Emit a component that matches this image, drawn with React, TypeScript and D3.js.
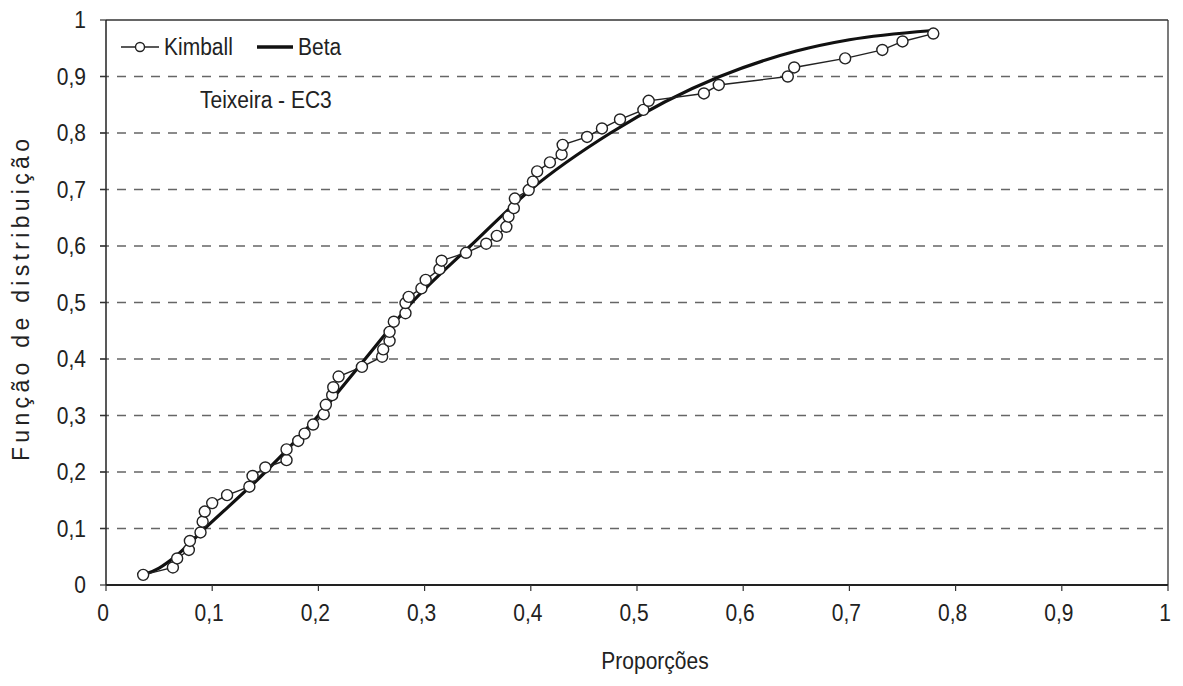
import React from 'react';
import * as d3 from 'd3';

const kimballX = [0.035,0.063,0.067,0.078,0.079,0.089,0.091,0.093,0.100,0.114,0.135,0.138,0.150,0.170,0.170,0.181,0.187,0.195,0.205,0.207,0.213,0.214,0.219,0.241,0.260,0.261,0.267,0.267,0.271,0.282,0.282,0.285,0.297,0.301,0.314,0.316,0.339,0.358,0.368,0.377,0.379,0.384,0.385,0.398,0.402,0.406,0.418,0.429,0.430,0.453,0.467,0.484,0.506,0.511,0.563,0.577,0.642,0.648,0.696,0.731,0.750,0.779];
const kimballY = [0.018,0.031,0.047,0.062,0.078,0.093,0.112,0.130,0.145,0.159,0.174,0.193,0.208,0.221,0.240,0.255,0.268,0.284,0.302,0.319,0.336,0.350,0.369,0.386,0.404,0.417,0.432,0.448,0.466,0.481,0.499,0.510,0.525,0.540,0.559,0.574,0.588,0.604,0.618,0.634,0.652,0.667,0.684,0.699,0.714,0.732,0.748,0.762,0.779,0.793,0.808,0.824,0.841,0.857,0.870,0.885,0.900,0.916,0.932,0.947,0.962,0.976];

const betaX = [0.035,0.05,0.065,0.093,0.15,0.2,0.244,0.288,0.343,0.40,0.475,0.578,0.65,0.70,0.776];
const betaY = [0.018,0.03,0.05,0.1,0.2,0.3,0.4,0.5,0.6,0.7,0.8,0.9,0.945,0.965,0.981];

const xTicks = [0,0.1,0.2,0.3,0.4,0.5,0.6,0.7,0.8,0.9,1];
const yTicks = [0,0.1,0.2,0.3,0.4,0.5,0.6,0.7,0.8,0.9,1];
const gridTicks = [0.1,0.2,0.3,0.4,0.5,0.6,0.7,0.8,0.9];

const fmt = (v: number) => (v === 0 ? '0' : v === 1 ? '1' : d3.format('.1f')(v).replace('.', ','));

const FONT = 'Liberation Sans, Arial, sans-serif';
const FS = 21;
const SY = 1.15;

function T({ x, y, anchor = 'start', children }: { x: number; y: number; anchor?: string; children: React.ReactNode }) {
  return (
    <text transform={`translate(${x},${y}) scale(1,${SY})`} textAnchor={anchor as any} fontSize={FS} fill="#222">
      {children}
    </text>
  );
}

export default function App() {
  const W = 1183, H = 686;
  const x = d3.scaleLinear().domain([0, 1]).range([106, 1168]);
  const y = d3.scaleLinear().domain([0, 1]).range([585, 20]);

  const kim = kimballX.map((v, i) => [v, kimballY[i]] as [number, number]);
  const beta = betaX.map((v, i) => [v, betaY[i]] as [number, number]);

  const kLine = d3.line<[number, number]>().x(d => x(d[0])).y(d => y(d[1]));
  const bLine = d3.line<[number, number]>().x(d => x(d[0])).y(d => y(d[1])).curve(d3.curveMonotoneX);

  return (
    <svg width={W} height={H} style={{ position: 'absolute', left: 0, top: 0, background: '#fff' }} fontFamily={FONT}>
      <rect x={0} y={0} width={W} height={H} fill="#fff" />
      {gridTicks.map(t => (
        <line key={'g' + t} x1={x(0) - 6} x2={x(1)} y1={y(t)} y2={y(t)} stroke="#666" strokeWidth={1.3} strokeDasharray="9,8" />
      ))}
      {/* frame */}
      <line x1={x(0)} x2={x(1)} y1={y(1)} y2={y(1)} stroke="#333" strokeWidth={1.3} />
      <line x1={x(1)} x2={x(1)} y1={y(1)} y2={y(0)} stroke="#333" strokeWidth={1.3} />
      <line x1={x(0)} x2={x(0)} y1={y(1)} y2={y(0)} stroke="#222" strokeWidth={1.5} />
      <line x1={x(0)} x2={x(1)} y1={y(0)} y2={y(0)} stroke="#222" strokeWidth={1.8} />
      {yTicks.map(t => (
        <g key={'yt' + t}>
          <line x1={x(0) - 6} x2={x(0)} y1={y(t)} y2={y(t)} stroke="#333" strokeWidth={1.2} />
          <T x={86} y={y(t) + 8} anchor="end">{fmt(t)}</T>
        </g>
      ))}
      {xTicks.map(t => (
        <g key={'xt' + t}>
          <line x1={x(t)} x2={x(t)} y1={y(0)} y2={y(0) + 6} stroke="#333" strokeWidth={1.2} />
          <T x={x(t) - 3} y={621} anchor="middle">{fmt(t)}</T>
        </g>
      ))}
      <T x={655} y={669} anchor="middle">Proporções</T>
      <text transform={`translate(29,${300}) rotate(-90)`} textAnchor="middle" fontSize={23} fill="#222" textLength={322} lengthAdjust="spacing">Função de distribuição</text>

      {/* series */}
      <path d={bLine(beta) || ''} fill="none" stroke="#111" strokeWidth={3.2} />
      <path d={kLine(kim) || ''} fill="none" stroke="#222" strokeWidth={1.4} />
      {kim.map((d, i) => (
        <circle key={'c' + i} cx={x(d[0])} cy={y(d[1])} r={5.5} fill="#fff" stroke="#222" strokeWidth={1.4} />
      ))}

      {/* legend */}
      <line x1={121} x2={159} y1={47} y2={47} stroke="#222" strokeWidth={1.6} />
      <circle cx={140} cy={47} r={4.5} fill="#fff" stroke="#222" strokeWidth={1.4} />
      <T x={164} y={55}>Kimball</T>
      <line x1={257} x2={293} y1={47} y2={47} stroke="#111" strokeWidth={3.5} />
      <T x={298} y={55}>Beta</T>
      <T x={200} y={108}>Teixeira - EC3</T>
    </svg>
  );
}
